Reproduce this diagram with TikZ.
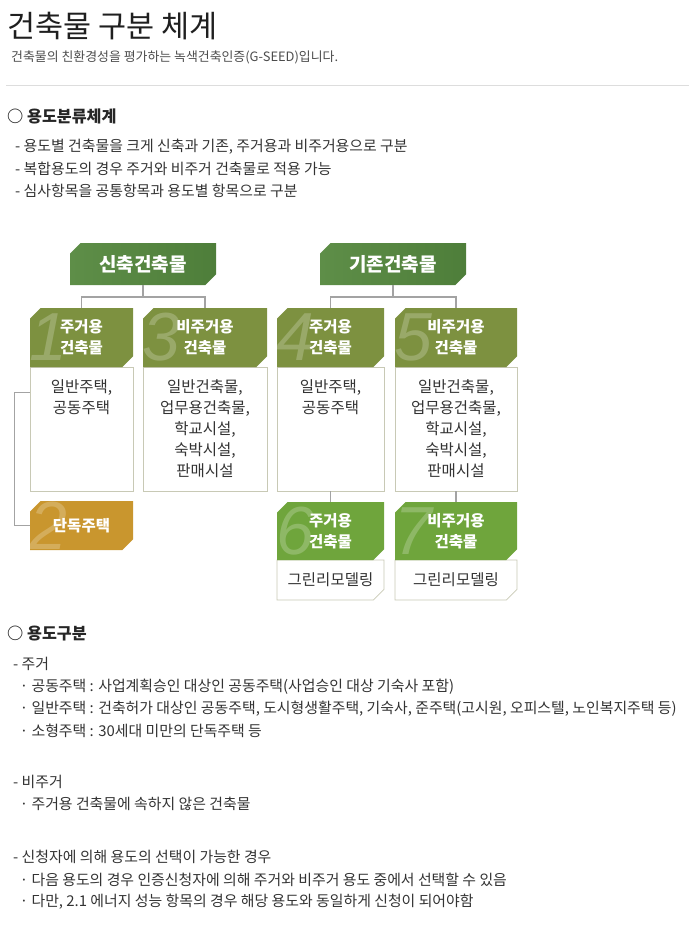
\documentclass[tikz,border=0pt]{standalone}
\usepackage{fontspec}
\setmainfont{Noto Sans CJK KR}
\newfontfamily\numfont{Liberation Sans}
\usetikzlibrary{positioning,shapes.misc}

\definecolor{topgreen}{HTML}{4E7E3A}
\definecolor{topgreenhi}{HTML}{5E8E48}
\definecolor{olivegreen}{HTML}{7D9140}
\definecolor{freshgreen}{HTML}{6FA53C}
\definecolor{goldbox}{HTML}{C9962E}
\definecolor{bodyedge}{HTML}{C8C9B5}
\definecolor{connline}{HTML}{A3A3A3}
\definecolor{textdark}{HTML}{333333}
\definecolor{ruleline}{HTML}{DDDDDD}

\tikzset{
  chamf/.style={chamfered rectangle, chamfered rectangle corners={#1},
    chamfered rectangle xsep=7pt, inner sep=0pt},
  topbox/.style={chamf={north west,south east}, left color=topgreenhi, right color=topgreen,
    minimum width=146pt, minimum height=42pt, text=white,
    font=\fontsize{19}{21}\selectfont\bfseries},
  hdrbox/.style={chamf={north west,south east}, fill=olivegreen, minimum height=59pt,
    text=white, align=center, font=\fontsize{15.5}{21}\selectfont\bfseries},
  bodybox/.style={chamf={south east}, fill=white, draw=bodyedge, line width=0.8pt,
    text=textdark, font=\fontsize{15.5}{21}\selectfont},
  bodytext/.style={align=center, text=textdark, inner sep=0pt,
    font=\fontsize{15.5}{21}\selectfont},
  numeral/.style={rectangle, minimum width=0pt, minimum height=0pt, align=left,
    text=white, opacity=0.22, inner sep=0pt,
    font=\fontsize{68}{68}\selectfont\numfont\itshape},
  num/.style={path picture={\node[numeral, anchor=west] at
    ([xshift=-1pt]path picture bounding box.west) {#1};}},
  conn/.style={draw=connline, line width=1.6pt},
  line/.style={anchor=west, inner sep=0pt, text=textdark, font=\fontsize{14.9}{17}\selectfont},
  heading/.style={anchor=west, inner sep=0pt, text=black!85, font=\fontsize{16.2}{18}\selectfont\bfseries}
}

\begin{document}
\begin{tikzpicture}[x=1pt, y=-1pt]
  \useasboundingbox (0,0) rectangle (689,939);

  % Title
  \node[anchor=west, inner sep=0pt, text=black!88, font=\fontsize{30.5}{32}\selectfont] (title) at (7,26) {건축물 구분 체계};
  \node[anchor=west, inner sep=0pt, text=black!70, font=\fontsize{12.9}{14}\selectfont] (subtitle) at (11,57) {건축물의 친환경성을 평가하는 녹색건축인증(G-SEED)입니다.};
  \draw[ruleline, line width=0.8pt] (6,85) -- (689,85);

  % Section 1
  \node[heading] (sec1) at (7,116) {○ 용도분류체계};
  \foreach \y/\txt in {147/{- 용도별 건축물을 크게 신축과 기존, 주거용과 비주거용으로 구분},
                       169/{- 복합용도의 경우 주거와 비주거 건축물로 적용 가능},
                       191/{- 심사항목을 공통항목과 용도별 항목으로 구분}} {
    \node[line] at (15,\y) {\txt};
  }

  % Top boxes
  \node[topbox] (new) at (143,264) {신축건축물};
  \node[topbox] (old) at (393,264) {기존건축물};

  % Bodies first, headers on top
  \foreach \n/\x/\w/\hd in {1/81.5/103/{주거용\\건축물}, 3/205/124/{비주거용\\건축물},
                            4/330.5/107/{주거용\\건축물}, 5/456/122/{비주거용\\건축물}} {
    \node[bodybox, minimum width=\w pt, minimum height=124pt] (b\n) at (\x,429) {};
    \node[hdrbox, num=\n, minimum width=\w pt] (h\n) at (\x,337.5) {\hd};
  }
  \node[bodytext, below=13pt of b1.north] {일반주택,\\공동주택};
  \node[bodytext, below=13pt of b3.north] {일반건축물,\\업무용건축물,\\학교시설,\\숙박시설,\\판매시설};
  \node[bodytext, below=13pt of b4.north] {일반주택,\\공동주택};
  \node[bodytext, below=13pt of b5.north] {일반건축물,\\업무용건축물,\\학교시설,\\숙박시설,\\판매시설};

  % Detached house
  \node[hdrbox, num=2, fill=goldbox, minimum width=103pt, minimum height=49pt] (h2) at (81.5,525.5) {단독주택};

  % Green remodelling
  \node[bodybox, minimum width=107pt, minimum height=40pt] (b6) at (330.5,580) {그린리모델링};
  \node[bodybox, minimum width=122pt, minimum height=40pt] (b7) at (456,580) {그린리모델링};
  \node[hdrbox, num=6, fill=freshgreen, minimum width=107pt, minimum height=58pt] (h6) at (330.5,531) {주거용\\건축물};
  \node[hdrbox, num=7, fill=freshgreen, minimum width=122pt, minimum height=58pt] (h7) at (456,531) {비주거용\\건축물};

  % Connectors
  \draw[conn] (new.south) -- ++(0,12) coordinate (jnew);
  \draw[conn] (h1.north) |- (jnew) -| (h3.north);
  \draw[conn] (old.south) -- ++(0,12) coordinate (jold);
  \draw[conn] (h4.north) |- (jold) -| (h5.north);
  \draw[conn] ([yshift=-26pt]b1.north west) -- ++(-15,0) |- (h2.west);
  \draw[conn] (b4.south) -- (h6.north);
  \draw[conn] (b5.south) -- (h7.north);

  % Section 2
  \node[heading] (sec2) at (7,634) {○ 용도구분};
  \foreach \y/\txt in {664/{- 주거},
                       687/{\ \ · 공동주택 : 사업계획승인 대상인 공동주택(사업승인 대상 기숙사 포함)},
                       709/{\ \ · 일반주택 : 건축허가 대상인 공동주택, 도시형생활주택, 기숙사, 준주택(고시원, 오피스텔, 노인복지주택 등)},
                       731/{\ \ · 소형주택 : 30세대 미만의 단독주택 등},
                       782/{- 비주거},
                       804/{\ \ · 주거용 건축물에 속하지 않은 건축물},
                       857/{- 신청자에 의해 용도의 선택이 가능한 경우},
                       880/{\ \ · 다음 용도의 경우 인증신청자에 의해 주거와 비주거 용도 중에서 선택할 수 있음},
                       902/{\ \ · 다만, 2.1 에너지 성능 항목의 경우 해당 용도와 동일하게 신청이 되어야함}} {
    \node[line] at (13,\y) {\txt};
  }
\end{tikzpicture}
\end{document}
